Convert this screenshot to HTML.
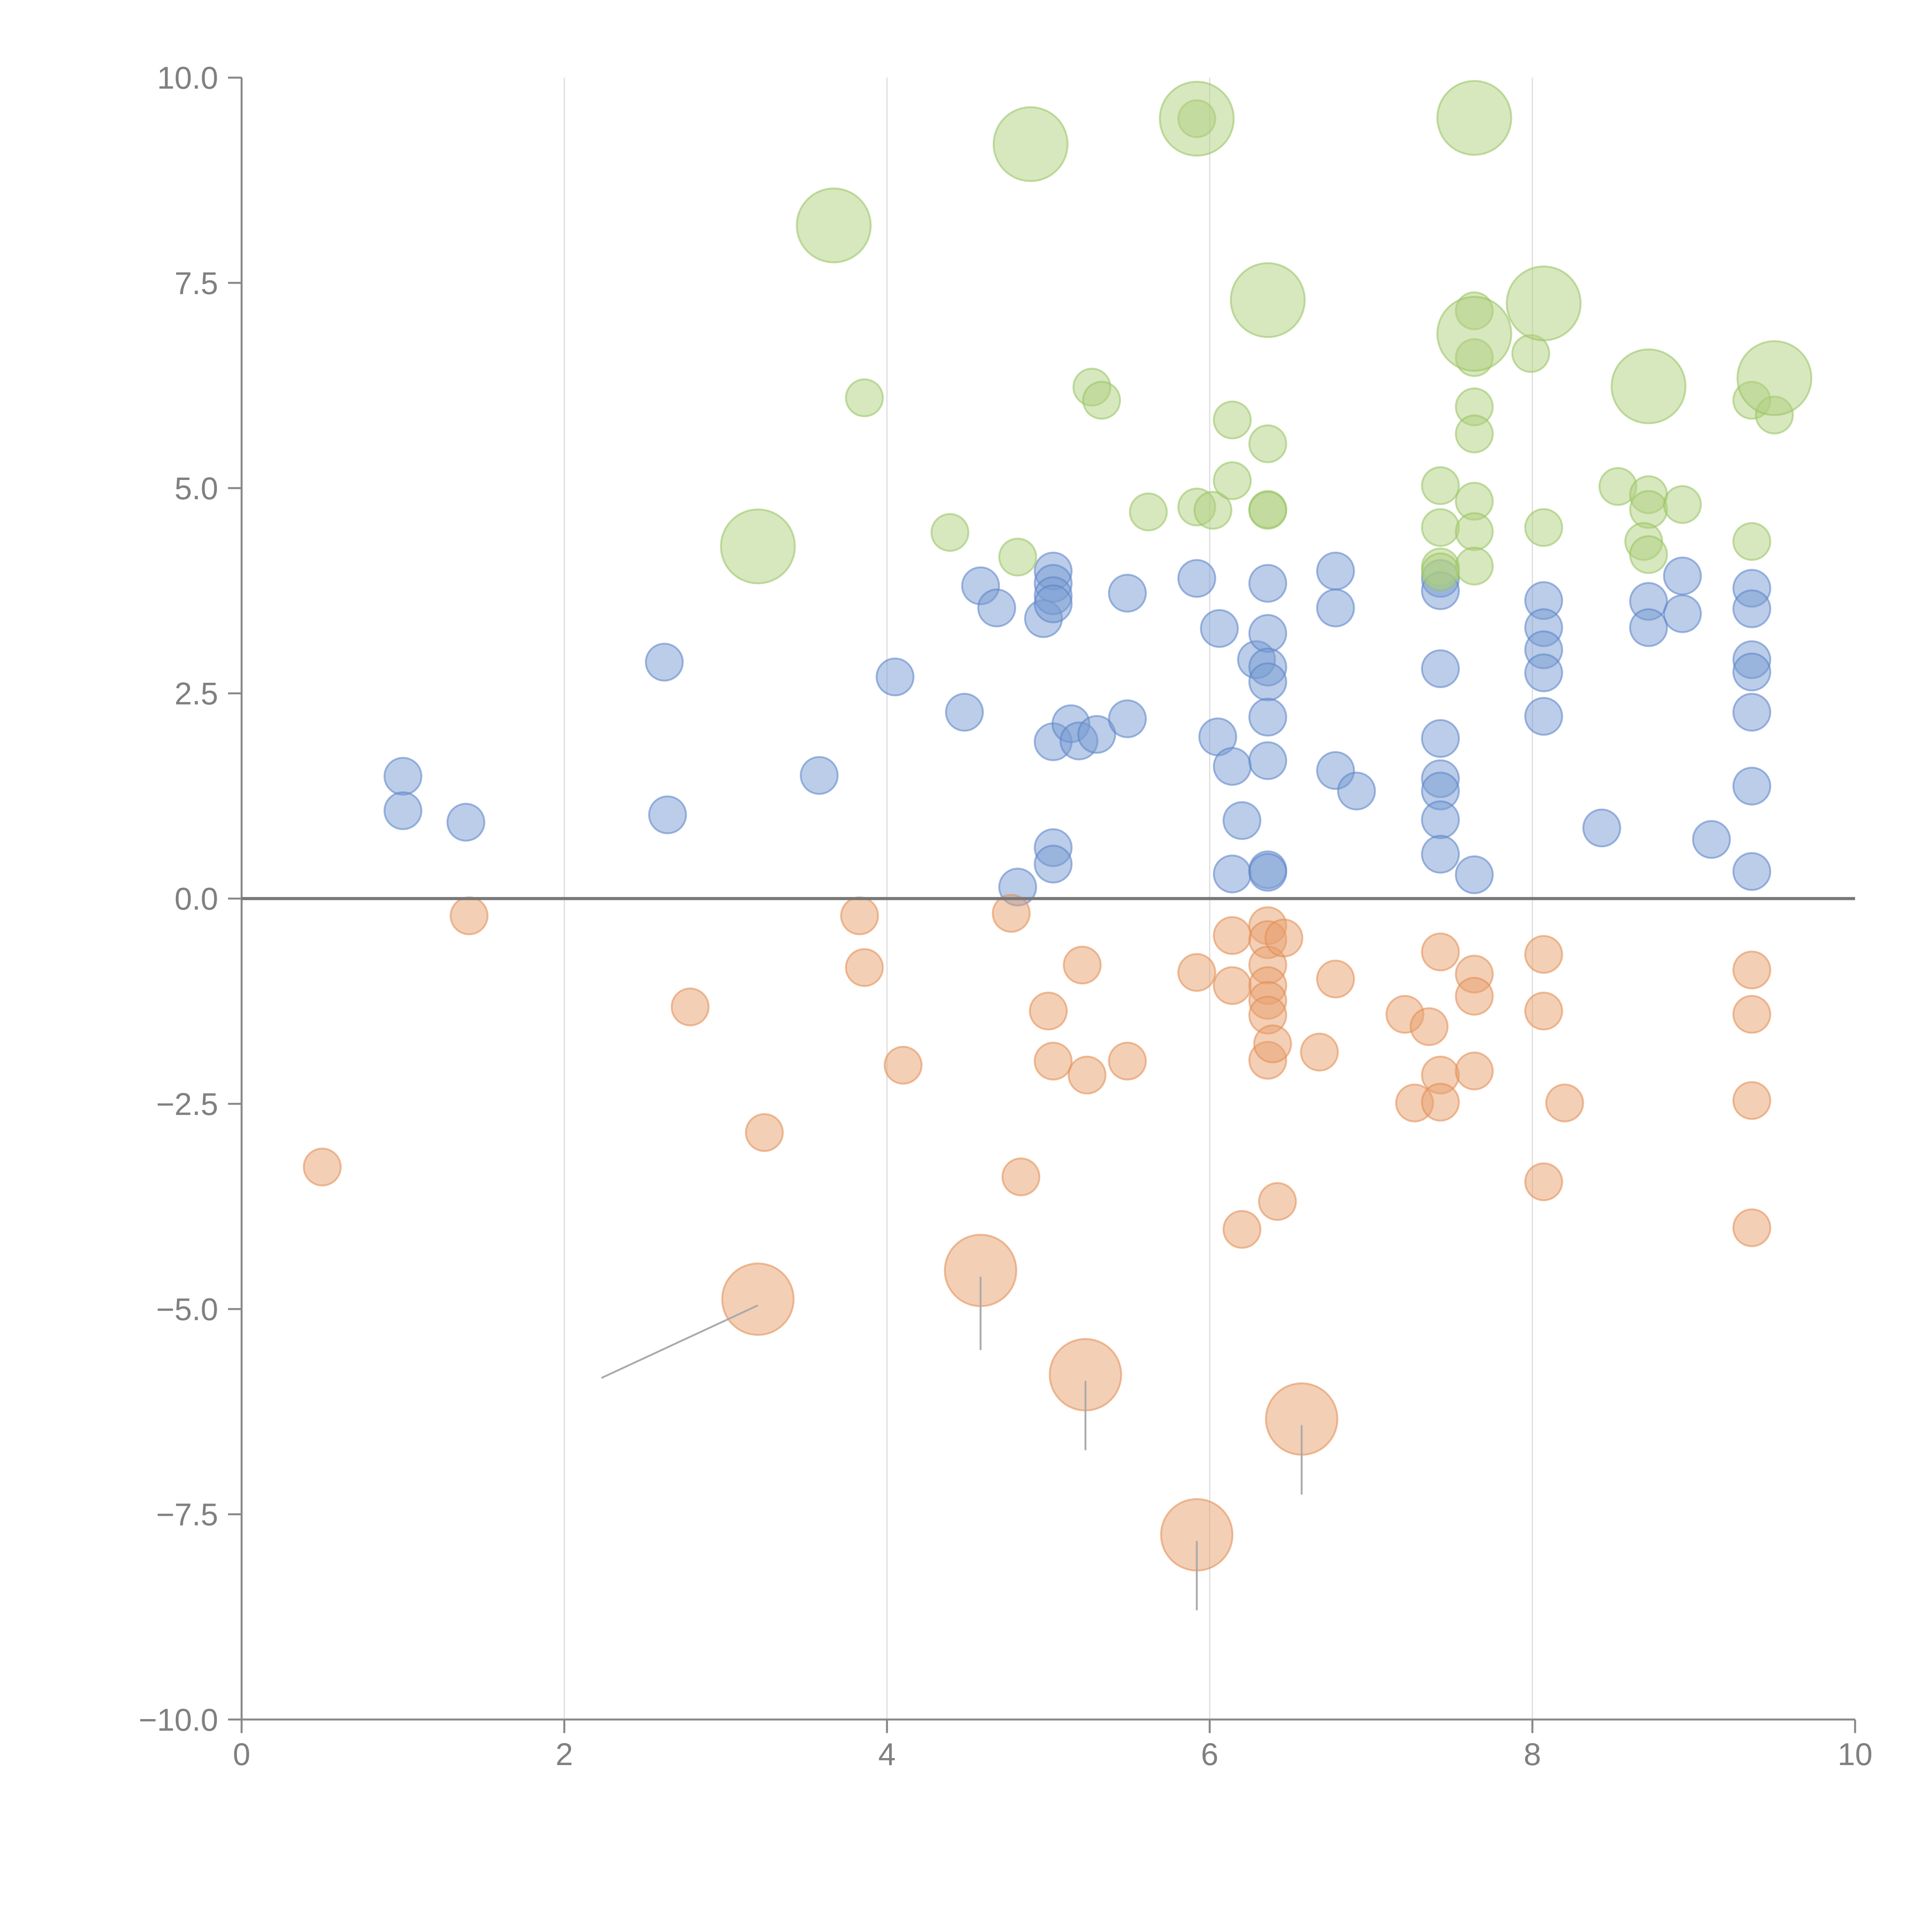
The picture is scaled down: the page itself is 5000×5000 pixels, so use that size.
<!DOCTYPE html>
<html><head><meta charset="utf-8">
<style>
html,body{margin:0;padding:0;background:#fff;}
svg{display:block;}
text{font-family:"Liberation Sans",Arial,sans-serif;fill:#808080;}
</style></head>
<body>
<svg id="chart" width="5000" height="5000" viewBox="0 0 1567.4 1567.4" xmlns="http://www.w3.org/2000/svg">
<g id="grid"></g>
<g id="axes"></g>
<g id="marks"></g>
<g id="leaders"></g>
</svg>
<script>
const xTicks=[0,2,4,6,8,10];
const xTickLabels=["0","2","4","6","8","10"];
const yTicks=[10,7.5,5,2.5,0,-2.5,-5,-7.5,-10];
const yTickLabels=["10.0","7.5","5.0","2.5","0.0","\u22122.5","\u22125.0","\u22127.5","\u221210.0"];
const blueX=[1.00,1.00,1.39,2.62,2.64,3.58,4.05,4.48,4.58,4.68,4.81,4.97,5.03,5.03,5.03,5.03,5.03,5.03,5.03,5.14,5.19,5.30,5.49,5.49,5.92,6.06,6.05,6.14,6.14,6.20,6.29,6.36,6.36,6.36,6.36,6.36,6.36,6.36,6.36,6.78,6.78,6.78,6.91,7.43,7.43,7.43,7.43,7.43,7.43,7.43,7.43,7.64,8.07,8.07,8.07,8.07,8.07,8.43,8.72,8.72,8.93,8.93,9.11,9.36,9.36,9.36,9.36,9.36,9.36,9.36];
const blueY=[1.49,1.07,0.93,2.88,1.02,1.50,2.70,2.27,3.81,3.54,0.14,3.41,3.99,3.84,3.69,3.59,1.91,0.62,0.42,2.13,1.92,2.00,3.72,2.19,3.90,3.29,1.97,1.61,0.30,0.95,2.91,3.84,3.23,2.82,2.64,2.21,1.68,0.35,0.32,3.99,3.54,1.56,1.31,3.90,3.75,2.80,1.95,1.46,1.31,0.96,0.54,0.29,3.63,3.30,3.03,2.75,2.22,0.86,3.62,3.30,3.93,3.47,0.72,3.78,3.53,2.91,2.76,2.27,1.37,0.33];
const orangeX=[0.50,1.41,2.78,3.24,3.83,3.86,4.10,4.77,4.83,5.00,5.03,5.21,5.24,5.49,5.92,6.14,6.14,6.20,6.36,6.36,6.36,6.36,6.36,6.36,6.36,6.39,6.42,6.46,6.68,6.78,7.21,7.27,7.36,7.43,7.43,7.43,7.64,7.64,7.64,8.07,8.07,8.07,8.20,9.36,9.36,9.36,9.36];
const orangeY=[-3.27,-0.21,-1.32,-2.85,-0.21,-0.84,-2.03,-0.18,-3.39,-1.37,-1.98,-0.81,-2.15,-1.98,-0.90,-0.45,-1.06,-4.03,-0.33,-0.50,-0.81,-1.06,-1.24,-1.42,-1.97,-1.77,-3.69,-0.48,-1.87,-0.98,-1.41,-2.49,-1.56,-0.65,-2.15,-2.48,-0.92,-1.19,-2.10,-0.68,-1.37,-3.45,-2.49,-0.87,-1.41,-2.46,-4.01];
const orangeBigX=[3.20,4.58,5.23,6.57,5.92];
const orangeBigY=[-4.88,-4.53,-5.80,-6.34,-7.75];
const orangeLeadX=[2.23,4.58,5.23,6.57,5.92];
const orangeLeadY=[-5.84,-5.50,-6.72,-7.26,-8.67];
const greenX=[3.86,4.39,4.81,5.27,5.33,5.62,5.92,6.02,6.14,6.14,6.36,6.36,7.43,7.43,7.43,7.64,7.64,7.64,7.64,7.64,7.64,7.64,7.99,8.07,8.53,8.72,8.72,8.69,8.72,8.93,9.36,9.36,9.50,5.92,6.36,7.43];
const greenY=[6.10,4.46,4.16,6.23,6.07,4.71,4.77,4.73,5.83,5.09,5.54,4.74,5.03,4.52,4.04,7.16,6.59,5.99,5.66,4.84,4.47,4.05,6.64,4.52,5.02,4.92,4.74,4.35,4.19,4.80,6.07,4.35,5.89,9.50,4.73,3.98];
const greenBigX=[3.67,4.89,5.92,7.64,6.36,7.64,8.07,8.72,9.50,3.20];
const greenBigY=[8.20,9.19,9.50,9.51,7.29,6.88,7.25,6.24,6.34,4.29];

const NS="http://www.w3.org/2000/svg";
const X0=196,X1=1505,Y0=63,Y1=1395;
function sx(v){return X0+(v-0)/(10-0)*(X1-X0);}
function sy(v){return Y1-(v+10)/20*(Y1-Y0);}
function mk(tag,attrs,parent){const e=document.createElementNS(NS,tag);for(const k in attrs)e.setAttribute(k,attrs[k]);parent.appendChild(e);return e;}
const grid=document.getElementById('grid'),axes=document.getElementById('axes'),marks=document.getElementById('marks'),leaders=document.getElementById('leaders');
xTicks.forEach((t,i)=>{
  if(t>0&&t<10){const g=mk('line',{x1:sx(t),x2:sx(t),y1:Y0,y2:Y1,stroke:'#dedede','stroke-width':1},grid);
  
  }
  const tk=mk('line',{x1:sx(t),x2:sx(t),y1:Y1,y2:Y1+11,stroke:'#888','stroke-width':1.6},axes);
  
  
  const tx=mk('text',{x:sx(t),y:1432,'text-anchor':'middle','font-size':25.5},axes);
  tx.textContent=xTickLabels[i];
  
  
});
yTicks.forEach((t,i)=>{
  const tk=mk('line',{x1:X0-11,x2:X0,y1:sy(t),y2:sy(t),stroke:'#888','stroke-width':1.6},axes);
  
  
  const tx=mk('text',{x:177,y:sy(t)+9,'text-anchor':'end','font-size':25.5},axes);
  tx.textContent=yTickLabels[i];
  
  
});
const ya=mk('line',{x1:X0,x2:X0,y1:Y0,y2:Y1,stroke:'#888','stroke-width':1.6},axes);


const xa=mk('line',{x1:X0,x2:X1,y1:Y1,y2:Y1,stroke:'#888','stroke-width':1.6},axes);


function dots(xs,ys,r,fill,stroke,name){
  xs.forEach((x,i)=>{
    const c=mk('circle',{cx:sx(x),cy:sy(ys[i]),r:r,fill:fill,stroke:stroke,'stroke-width':1.5},marks);
    
    
  });
}
dots(blueX,blueY,15,'rgba(120,155,210,0.5)','rgba(90,130,200,0.55)','blue-bubble');
dots(orangeX,orangeY,15,'rgba(232,160,110,0.5)','rgba(225,140,80,0.55)','orange-bubble');
dots(greenX,greenY,15,'rgba(175,208,125,0.5)','rgba(150,195,95,0.55)','green-bubble');
dots(greenBigX,greenBigY,30,'rgba(175,208,125,0.5)','rgba(150,195,95,0.55)','green-large-bubble');
dots(orangeBigX,orangeBigY,29,'rgba(232,160,110,0.5)','rgba(225,140,80,0.55)','orange-large-bubble');
orangeBigX.forEach((x,i)=>{
  const l=mk('line',{x1:sx(x),y1:sy(orangeBigY[i])+5,x2:sx(orangeLeadX[i]),y2:sy(orangeLeadY[i]),stroke:'#aaa','stroke-width':1.5},leaders);
  
  
});
const zl=mk('line',{x1:X0,x2:X1,y1:sy(0),y2:sy(0),stroke:'#777','stroke-width':2.5},axes.parentNode);


</script>
</body></html>
